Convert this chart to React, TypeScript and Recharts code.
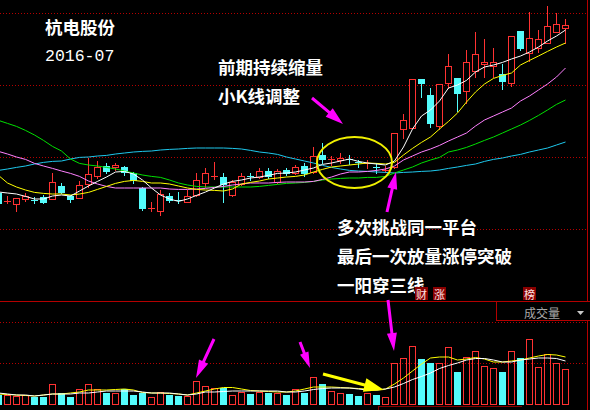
import { Bar, ComposedChart, Line, XAxis, YAxis } from "recharts"

// daily K-line, 64 sessions (first one is clipped at the left edge)
const opens = [
  17.35, 16.95, 16.8, 17.05, 17.0, 17.15, 17.05, 17.7, 17.2, 17.1,
  17.8, 18.2, 18.7, 18.65, 18.65, 18.35, 17.6, 16.6, 16.45, 17.2,
  17.0, 16.9, 17.25, 17.85, 18.2, 18.15, 17.25, 17.8, 18.18, 18.15,
  18.45, 17.9, 18.5, 18.35, 18.7, 18.4, 19.25, 19.05, 19.0, 19.05,
  18.9, 18.85, 18.65, 18.45, 18.65, 20.55, 20.6, 23.05, 22.25, 20.7,
  22.85, 23.1, 22.45, 23.45, 23.8, 23.7, 23.3, 22.85, 25.45, 24.35,
  24.6, 24.85, 25.4, 25.6,
]
const closes = [
  16.85, 16.96, 17.1, 17.2, 16.99, 16.9, 17.9, 17.4, 17.05, 17.75,
  18.3, 18.65, 18.45, 18.75, 18.4, 18.0, 16.6, 16.61, 17.3, 17.0,
  16.99, 17.2, 18.0, 18.35, 18.21, 17.8, 17.9, 18.2, 18.15, 18.45,
  18.2, 18.45, 18.35, 18.65, 18.35, 19.2, 19.05, 19.06, 19.1, 19.04,
  18.83, 18.86, 18.64, 18.52, 20.37, 21.0, 23.05, 22.85, 20.85, 22.8,
  23.7, 22.35, 23.9, 24.3, 23.9, 23.9, 22.95, 25.2, 24.6, 25.1,
  25.05, 25.7, 25.8, 25.75,
]
const highs = [
  17.4, 17.2, 17.1, 17.35, 17.15, 17.25, 18.35, 17.85, 17.25, 17.95,
  19.1, 18.95, 18.85, 18.85, 18.7, 18.4, 17.65, 16.9, 17.5, 17.35,
  17.4, 17.5, 18.35, 18.6, 18.9, 18.35, 18.0, 18.35, 18.35, 18.6,
  18.6, 18.55, 18.6, 18.75, 18.85, 19.65, 19.85, 19.2, 19.35, 19.25,
  19.0, 19.0, 18.85, 18.7, 20.37, 21.3, 23.05, 23.05, 22.6, 22.8,
  24.3, 23.1, 24.5, 25.4, 25.05, 24.6, 23.8, 25.2, 25.45, 26.4,
  25.5, 26.7, 26.35, 26.05,
]
const lows = [
  16.8, 16.85, 16.45, 16.95, 16.85, 16.85, 17.05, 17.35, 16.9, 17.1,
  17.65, 18.1, 18.35, 18.5, 18.25, 17.85, 16.5, 16.45, 16.25, 16.9,
  16.85, 16.9, 17.2, 17.65, 18.05, 16.9, 17.2, 17.75, 18.0, 18.1,
  18.1, 17.85, 18.25, 18.3, 18.2, 18.35, 18.85, 18.75, 18.85, 18.8,
  18.65, 18.6, 18.35, 18.42, 18.6, 20.1, 20.6, 22.15, 20.65, 20.55,
  22.6, 21.45, 21.85, 23.15, 23.15, 23.15, 22.55, 22.7, 24.5, 23.95,
  24.4, 24.85, 25.4, 24.85,
]

// moving averages
const ma5 = [
  17.4, 17.35, 17.3, 17.18, 17.05, 17.05, 17.2, 17.25, 17.2, 17.45,
  17.7, 17.93, 18.15, 18.4, 18.43, 18.3, 18.0, 17.6, 17.25, 17.05,
  16.93, 17.05, 17.23, 17.4, 17.6, 17.8, 17.93, 18.0, 18.1, 18.15,
  18.23, 18.33, 18.35, 18.4, 18.5, 18.6, 18.78, 18.85, 18.95, 19.05,
  18.93, 18.85, 18.8, 18.75, 18.95, 19.65, 20.55, 21.2, 21.5, 21.95,
  22.6, 22.75, 22.98, 23.4, 23.65, 23.75, 23.88, 24.05, 24.2, 24.4,
  24.65, 24.95, 25.2, 25.5,
]
const ma10 = [
  18.23, 17.85, 17.65, 17.5, 17.38, 17.33, 17.3, 17.3, 17.25, 17.3,
  17.38, 17.53, 17.68, 17.83, 17.93, 17.98, 17.93, 17.85, 17.85, 17.8,
  17.7, 17.6, 17.53, 17.5, 17.48, 17.45, 17.55, 17.8, 17.88, 17.95,
  18.05, 18.1, 18.15, 18.18, 18.25, 18.4, 18.53, 18.65, 18.7, 18.75,
  18.8, 18.85, 18.83, 18.8, 18.88, 19.25, 19.58, 19.88, 20.15, 20.55,
  20.93, 21.35, 21.9, 22.4, 22.8, 23.08, 23.23, 23.35, 23.75, 23.98,
  24.2, 24.43, 24.65, 24.85,
]
const ma20 = [
  19.43, 19.3, 19.15, 19.03, 18.83, 18.7, 18.58, 18.45, 18.33, 18.18,
  17.95, 17.8, 17.68, 17.6, 17.6, 17.6, 17.6, 17.6, 17.6, 17.55,
  17.53, 17.53, 17.55, 17.58, 17.63, 17.68, 17.75, 17.8, 17.85, 17.85,
  17.85, 17.88, 17.9, 17.9, 17.9, 17.93, 18.03, 18.15, 18.3, 18.4,
  18.4, 18.43, 18.48, 18.55, 18.7, 19.0, 19.2, 19.4, 19.55, 19.73,
  19.95, 20.15, 20.35, 20.7, 21.0, 21.2, 21.4, 21.6, 21.95, 22.2,
  22.5, 22.8, 23.15, 23.6,
]
const ma30 = [
  20.98, 20.83, 20.68, 20.48, 20.25, 19.98, 19.68, 19.45, 19.05, 18.83,
  18.75, 18.7, 18.63, 18.55, 18.45, 18.35, 18.25, 18.18, 18.13, 18.0,
  17.85, 17.75, 17.68, 17.65, 17.65, 17.65, 17.65, 17.65, 17.65, 17.68,
  17.73, 17.78, 17.83, 17.85, 17.88, 17.93, 18.0, 18.05, 18.08, 18.1,
  18.1, 18.13, 18.13, 18.18, 18.35, 18.5, 18.65, 18.85, 19.0, 19.13,
  19.4, 19.5, 19.63, 19.8, 19.98, 20.15, 20.35, 20.55, 20.75, 20.98,
  21.23, 21.5, 21.78, 22.0,
]
const ma60 = [
  18.48, 18.55, 18.63, 18.7, 18.8, 18.88, 18.93, 18.95, 19.05, 19.13,
  19.15, 19.2, 19.23, 19.3, 19.35, 19.4, 19.43, 19.45, 19.5, 19.53,
  19.55, 19.58, 19.6, 19.6, 19.6, 19.6, 19.58, 19.55, 19.48, 19.4,
  19.35, 19.28, 19.15, 19.05, 18.95, 18.85, 18.73, 18.63, 18.55, 18.48,
  18.45, 18.43, 18.4, 18.38, 18.35, 18.38, 18.4, 18.43, 18.45, 18.5,
  18.58, 18.65, 18.73, 18.8, 18.93, 19.03, 19.1, 19.2, 19.28, 19.4,
  19.5, 19.6, 19.75, 19.9,
]

// volume (lots) and its averages
const volumes = [
  5000, 5000, 4500, 5000, 4000, 4000, 10500, 6000, 4000, 8000,
  10500, 8000, 6000, 6000, 8000, 5000, 6000, 4000, 6500, 5000,
  4500, 4500, 12000, 9500, 8500, 8500, 5000, 6500, 5500, 6500,
  6000, 6000, 5000, 8000, 6000, 14000, 10500, 7000, 6000, 5500,
  4500, 6000, 5000, 4000, 21000, 23500, 29500, 23000, 21000, 21000,
  29000, 16500, 24000, 27000, 19500, 18500, 16500, 27000, 23500, 33000,
  19000, 25500, 21000, 18000,
]
const volMa5 = [
  6000, 5500, 5000, 5000, 4500, 5000, 5500, 5500, 5500, 6000,
  6000, 6500, 7000, 7000, 7000, 7000, 6500, 6000, 6000, 6000,
  5500, 5000, 5500, 6500, 6500, 6750, 7000, 7000, 7000, 7000,
  7000, 7000, 6500, 6500, 7000, 7750, 8250, 8500, 8500, 8500,
  8000, 7500, 7500, 8000, 9000, 10750, 12750, 14250, 16000, 18250,
  19750, 21000, 22500, 23250, 23250, 22500, 21500, 21500, 22500, 23000,
  23500, 23500, 23250, 22000,
]
const volMa10 = [
  5500, 5250, 5000, 4750, 4500, 5000, 5500, 5500, 6000, 6500,
  7500, 7500, 7500, 7750, 8000, 7500, 6250, 6000, 6000, 5750,
  5500, 5000, 6000, 7000, 8000, 8750, 8750, 8000, 7250, 7000,
  6750, 6500, 6500, 7000, 8000, 9000, 9000, 9000, 8750, 8500,
  8250, 8000, 7500, 8000, 10500, 13500, 17000, 20500, 23500, 24000,
  24000, 22500, 23000, 23750, 23000, 21500, 21500, 22000, 22500, 23500,
  24500, 25250, 25000, 24000,
]

const UP = "#ff3232"
const DOWN = "#54fcfc"
const GRID = "#b40000"
const FONT = "'Noto Sans CJK SC', 'Noto Sans', sans-serif"

const data = opens.map((open, i) => ({
  day: i + 1,
  open,
  close: closes[i],
  high: highs[i],
  low: lows[i],
  range: [lows[i], highs[i]],
  ma5: ma5[i],
  ma10: ma10[i],
  ma20: ma20[i],
  ma30: ma30[i],
  ma60: ma60[i],
  vol: volumes[i],
  volMa5: volMa5[i],
  volMa10: volMa10[i],
}))

function Candle(props: any) {
  const { x, y, width, height, payload } = props
  if (x == null || !payload) return null
  const { open, close, high, low } = payload
  const top = Math.min(y, y + height)
  const h = Math.abs(height)
  const toY = (v: number) => top + ((high - v) / (high - low)) * h
  const up = close >= open
  const color = up ? UP : DOWN
  const left = Math.round(x)
  const w = Math.round(width)
  const cx = left + Math.floor(w / 2) + 0.5
  const bTop = Math.round(toY(Math.max(open, close)))
  const bBot = Math.round(toY(Math.min(open, close)))
  const hiY = Math.round(toY(high))
  const loY = Math.round(toY(low))

  if (bBot - bTop <= 1) {
    return (
      <g>
        <line x1={cx} x2={cx} y1={hiY} y2={loY + 1} stroke={color} />
        <line x1={left} x2={left + w} y1={bTop + 0.5} y2={bTop + 0.5} stroke={color} />
      </g>
    )
  }
  if (up) {
    return (
      <g>
        {hiY < bTop && <line x1={cx} x2={cx} y1={hiY} y2={bTop} stroke={color} />}
        {loY > bBot && <line x1={cx} x2={cx} y1={bBot + 1} y2={loY + 1} stroke={color} />}
        <rect x={left + 0.5} y={bTop + 0.5} width={w - 1} height={bBot - bTop} fill="#000" stroke={color} />
      </g>
    )
  }
  return (
    <g>
      <line x1={cx} x2={cx} y1={hiY} y2={loY + 1} stroke={color} />
      <rect x={left} y={bTop} width={w} height={bBot - bTop + 1} fill={color} />
    </g>
  )
}

function VolumeBar(props: any) {
  const { x, y, width, height, payload } = props
  if (x == null || !payload) return null
  const left = Math.round(x)
  const w = Math.round(width)
  const top = Math.round(y)
  const bottom = Math.round(y + height)
  if (payload.close >= payload.open) {
    return <rect x={left + 0.5} y={top + 0.5} width={w - 1} height={bottom - top - 1} fill="none" stroke={UP} />
  }
  return <rect x={left} y={top} width={w} height={bottom - top} fill={DOWN} />
}

function arrow(x1: number, y1: number, x2: number, y2: number, shaft: number, headLen: number, headW: number) {
  const len = Math.hypot(x2 - x1, y2 - y1)
  const ux = (x2 - x1) / len
  const uy = (y2 - y1) / len
  const px = -uy
  const py = ux
  const bx = x2 - ux * headLen
  const by = y2 - uy * headLen
  const pts = [
    [x1 + (px * shaft) / 2, y1 + (py * shaft) / 2],
    [bx + (px * shaft) / 2, by + (py * shaft) / 2],
    [bx + (px * headW) / 2, by + (py * headW) / 2],
    [x2, y2],
    [bx - (px * headW) / 2, by - (py * headW) / 2],
    [bx - (px * shaft) / 2, by - (py * shaft) / 2],
    [x1 - (px * shaft) / 2, y1 - (py * shaft) / 2],
  ]
  return pts.map((p) => p.join(",")).join(" ")
}

function Frame() {
  const dotted = [13.5, 85.5, 157.5, 229.5, 322.5, 363.5]
  return (
    <svg width={590} height={410} style={{ position: "absolute", left: 0, top: 0 }}>
      {dotted.map((y) => (
        <line key={y} x1={0} x2={587} y1={y} y2={y} stroke={GRID} strokeDasharray="1 2" />
      ))}
      <line x1={0} x2={590} y1={301.5} y2={301.5} stroke={GRID} />
      <line x1={587.5} x2={587.5} y1={0} y2={410} stroke={GRID} />
      <line x1={378} x2={522} y1={406.5} y2={406.5} stroke="#8a0000" />
      <line x1={378.5} x2={378.5} y1={406} y2={410} stroke="#8a0000" />
    </svg>
  )
}

function Notes() {
  const big = { fontFamily: FONT, fontWeight: 700, fontSize: 17.5, fill: "#fff" }
  const tag = (x: number, s: string) => (
    <g key={s}>
      <rect x={x} y={287} width={13} height={13} fill="#8a0000" />
      <text x={x + 6.5} y={294} textAnchor="middle" dominantBaseline="central" fontFamily={FONT} fontSize={11} fill="#ffe0e0">
        {s}
      </text>
    </g>
  )
  return (
    <svg width={590} height={410} style={{ position: "absolute", left: 0, top: 0 }}>
      <text x={45} y={26} dominantBaseline="central" {...big}>杭电股份</text>
      <text x={45} y={56} dominantBaseline="central" fontFamily="'Liberation Mono', monospace" fontSize={16.5} fill="#fff">
        2016-07
      </text>
      <text x={218} y={66} dominantBaseline="central" {...big}>前期持续缩量</text>
      <text x={218} y={95} dominantBaseline="central" {...big}>小K线调整</text>
      <text x={337} y={226} dominantBaseline="central" {...big}>多次挑战同一平台</text>
      <text x={337} y={255} dominantBaseline="central" {...big}>最后一次放量涨停突破</text>
      <text x={337} y={284} dominantBaseline="central" {...big}>一阳穿三线</text>
      {tag(415, "财")}
      {tag(433, "涨")}
      {tag(523, "榜")}

      <rect x={496.5} y={301.5} width={100} height={19} fill="#000" stroke={GRID} />
      <text x={524} y={312} dominantBaseline="central" fontFamily={FONT} fontSize={12} fill="#a8a8a8">成交量</text>
      <polygon points="577,311 584,311 580.5,315" fill="#c8c8c8" />

      <ellipse cx={354.5} cy={162.5} rx={37.5} ry={25.5} fill="none" stroke="#f0f000" strokeWidth={2} />

      <g fill="#ff00ff">
        <polygon points={arrow(312, 98, 343, 124, 3, 18, 11)} />
        <polygon points={arrow(387, 212, 396, 172, 3, 17, 10)} />
        <polygon points={arrow(214, 339, 196, 378, 3, 18, 10)} />
        <polygon points={arrow(300, 342, 310, 368, 3, 16, 9)} />
        <polygon points={arrow(388, 300, 394, 351, 3, 18, 10)} />
      </g>
      <polygon points={arrow(323, 374, 384, 390, 3, 20, 14)} fill="#ffff00" />
    </svg>
  )
}

export default function App() {
  return (
    <div
      style={{
        position: "fixed",
        left: 0,
        top: 0,
        width: 590,
        height: 410,
        background: "#000",
        overflow: "hidden",
      }}
    >
      <Frame />
      <div style={{ position: "absolute", left: -6, top: 0 }}>
        <ComposedChart width={576} height={300} data={data} margin={{ top: 0, right: 0, bottom: 0, left: 0 }}>
          <XAxis dataKey="day" hide />
          <YAxis hide domain={[12, 27]} allowDataOverflow />
          <Bar dataKey="range" barSize={7} shape={Candle} isAnimationActive={false} />
          <Line dataKey="ma60" stroke="#1ec8ec" dot={false} activeDot={false} isAnimationActive={false} />
          <Line dataKey="ma30" stroke="#00e000" dot={false} activeDot={false} isAnimationActive={false} />
          <Line dataKey="ma20" stroke="#ff80ff" dot={false} activeDot={false} isAnimationActive={false} />
          <Line dataKey="ma10" stroke="#ffff00" dot={false} activeDot={false} isAnimationActive={false} />
          <Line dataKey="ma5" stroke="#ffffff" dot={false} activeDot={false} isAnimationActive={false} />
        </ComposedChart>
      </div>
      <div style={{ position: "absolute", left: -6, top: 301 }}>
        <ComposedChart width={576} height={104} data={data} margin={{ top: 0, right: 0, bottom: 0, left: 0 }}>
          <XAxis dataKey="day" hide />
          <YAxis hide domain={[0, 52000]} allowDataOverflow />
          <Bar dataKey="vol" barSize={7} shape={VolumeBar} isAnimationActive={false} />
          <Line dataKey="volMa10" stroke="#ffff00" dot={false} activeDot={false} isAnimationActive={false} />
          <Line dataKey="volMa5" stroke="#ffffff" dot={false} activeDot={false} isAnimationActive={false} />
        </ComposedChart>
      </div>
      <Notes />
    </div>
  )
}
